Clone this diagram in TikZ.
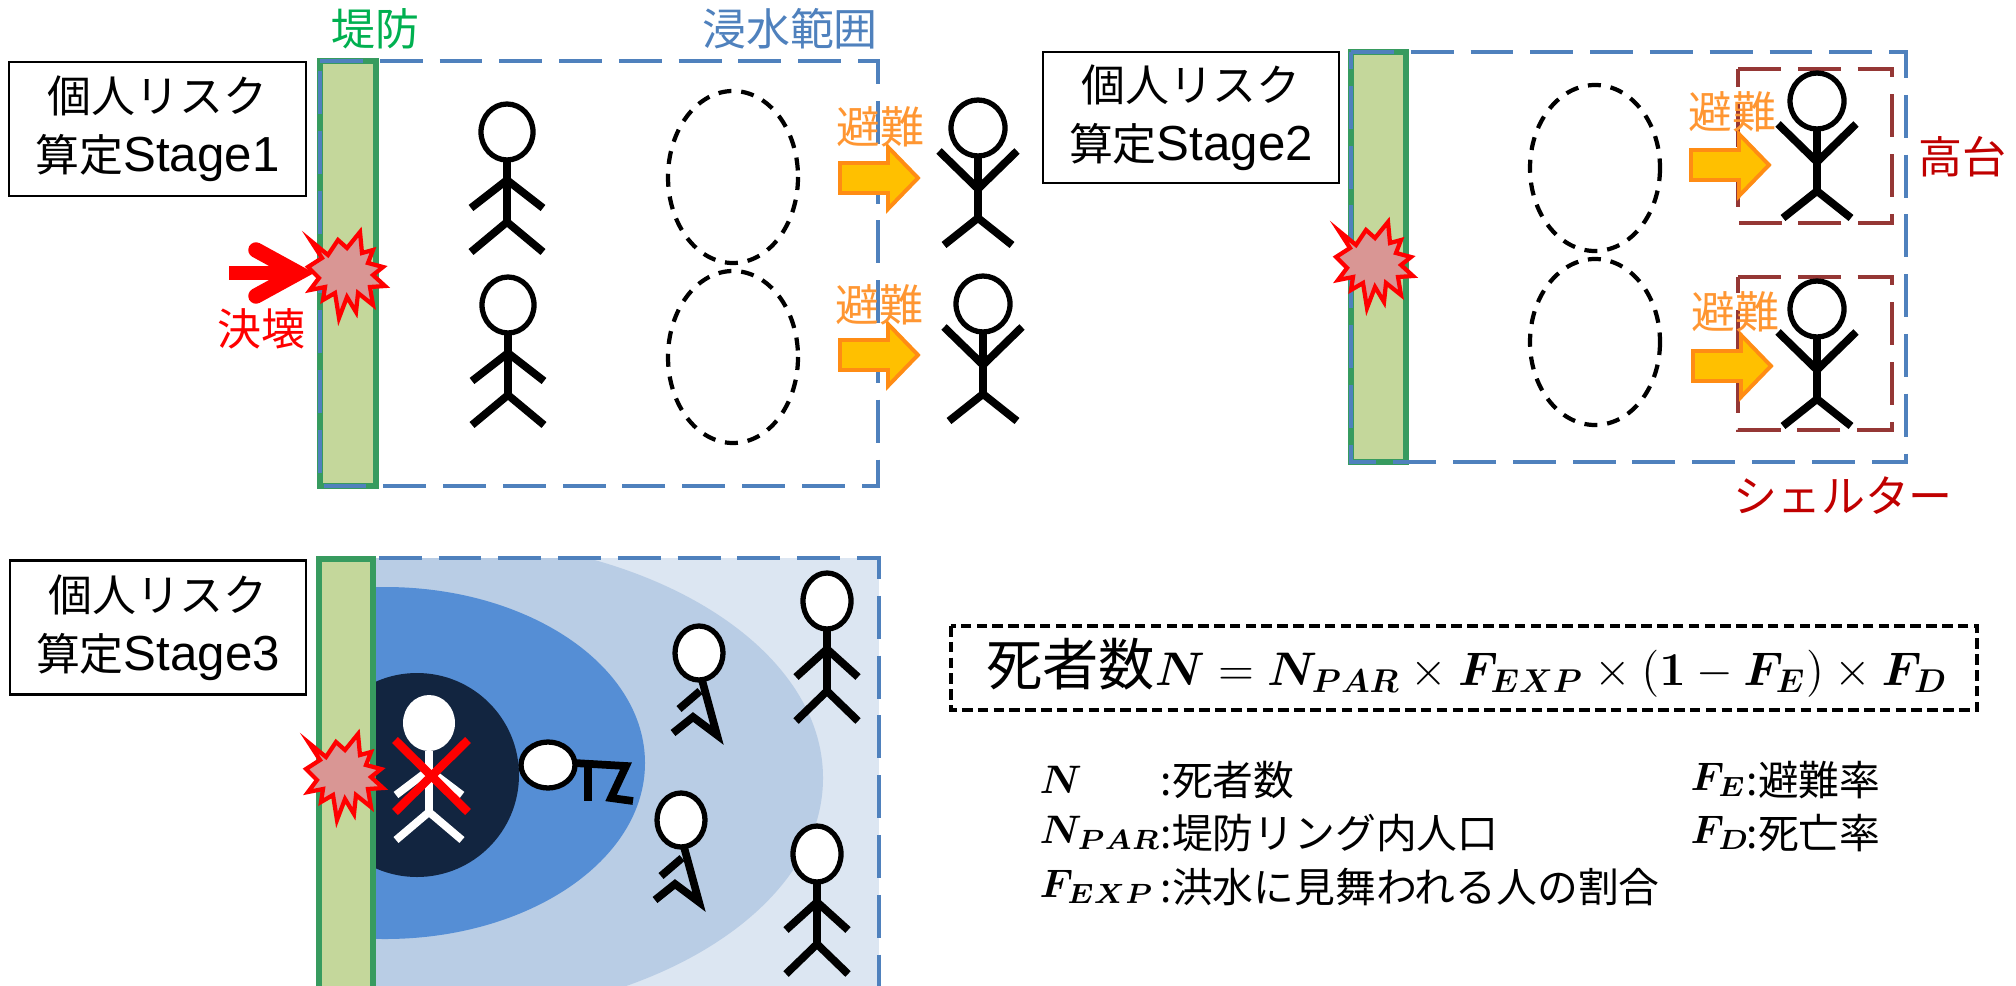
\RequirePackage{fix-cm}
\documentclass[tikz,border=0pt]{standalone}
\usepackage{amsmath,amssymb,bm}
\usepackage[no-math]{fontspec}
\setmainfont{Noto Sans CJK JP}
\newfontfamily\latinfont{Liberation Sans}
\definecolor{leveefill}{RGB}{196,215,155}
\definecolor{leveeedge}{RGB}{55,155,95}
\definecolor{leveetext}{RGB}{0,176,80}
\definecolor{floodblue}{RGB}{79,129,189}
\definecolor{burstfill}{RGB}{217,150,148}
\definecolor{evacfill}{RGB}{255,192,0}
\definecolor{evacedge}{RGB}{255,140,20}
\definecolor{evactext}{RGB}{255,150,50}
\definecolor{shelteredge}{RGB}{149,55,53}
\definecolor{highred}{RGB}{192,0,0}
\definecolor{depthA}{RGB}{220,230,242}
\definecolor{depthB}{RGB}{185,205,229}
\definecolor{depthC}{RGB}{85,142,213}
\definecolor{depthD}{RGB}{18,37,64}
\newcommand{\stagetext}[1]{個人リスク\\算定{\latinfont\fontsize{14}{16.8}\selectfont Stage#1}}

\begin{document}
\begin{tikzpicture}[x=0.01cm,y=-0.01cm,
  labelbox/.style={draw,line width=0.6pt,minimum width=2.96cm,minimum height=1.34cm,inner sep=0pt,align=center,font=\fontsize{12.5}{16.8}\selectfont},
  levee/.style={fill=leveefill,draw=leveeedge,line width=1.5pt},
  flood/.style={draw=floodblue,line width=1.4pt,dash pattern=on 12.2pt off 4.8pt},
  trace/.style={draw=black,line width=1.2pt,dash pattern=on 3.7pt off 2.8pt},
  burst/.style={fill=burstfill,draw=red,line width=1.2pt,line join=miter},
  evac/.style={fill=evacfill,draw=evacedge,line width=1.1pt},
  shelter/.style={draw=shelteredge,line width=1.4pt,dash pattern=on 12.2pt off 4.8pt},
  person/.style={line width=2.2pt},
  head/.style={line width=1.5pt,fill=white},
  tag/.style={font=\fontsize{12.5}{15}\selectfont,inner sep=0pt},
  legend/.style={font=\fontsize{11.6}{14}\selectfont,inner sep=0pt,anchor=west},
  symbol/.style={font=\fontsize{11.3}{14}\selectfont,inner sep=0pt,anchor=west}]
\useasboundingbox (0,0) rectangle (2016,985);

% Stage 1
\filldraw[levee] (320,61) rectangle (376,486);
\draw[flood] (320,61) -- (878,61) -- (878,486) -- (320,486) -- cycle;
\draw[trace] (733,177) ellipse [x radius=65, y radius=86];
\draw[trace] (733,357) ellipse [x radius=65, y radius=86];
\node[labelbox] (stage1) at (157.5,129) {\stagetext{1}};
\node[tag,text=leveetext] (leveename) at (375,29) {堤防};
\node[tag,text=floodblue] (floodname) at (790,29) {浸水範囲};
\node[tag,text=red] (breachname) at (261,329) {決壊};
\draw[red,line width=3.8pt] (229,273) -- (290,273);
\draw[red,line width=4.4pt,line cap=round] (256,250) -- (298,273) -- (256,296);

% Stage 2
\filldraw[levee] (1351,52) rectangle (1406,462);
\draw[flood] (1351,52) -- (1906,52) -- (1906,462) -- (1351,462) -- cycle;
\draw[trace] (1595,168) ellipse [x radius=65, y radius=83];
\draw[trace] (1595,342) ellipse [x radius=65, y radius=83];
\draw[shelter] (1738,69) -- (1892,69) -- (1892,223) -- (1738,223) -- cycle;
\draw[shelter] (1738,277) -- (1892,277) -- (1892,430) -- (1738,430) -- cycle;
\node[labelbox,minimum height=1.31cm] (stage2) at (1191,117.5) {\stagetext{2}};
\node[tag,text=highred] (highground) at (1962,157) {高台};
\node[tag,text=highred] (sheltername) at (1843,496) {シェルター};

% Stage 3
\fill[depthA] (319,558) rectangle (879,1000);
\begin{scope}
\clip (319,558) rectangle (879,1000);
\fill[depthB] (430,778) ellipse [x radius=393, y radius=240];
\fill[depthC] (385,763) ellipse [x radius=260, y radius=176];
\fill[depthD] (417,775) ellipse [x radius=102, y radius=102];
\end{scope}
\draw[flood] (319,558) -- (879,558) -- (879,1000);
\filldraw[levee] (319,559) rectangle (373,1000);
\node[labelbox] (stage3) at (158,627.5) {\stagetext{3}};

\foreach \bx/\by in {347/273, 1375/263, 345/775}
  \filldraw[burst,shift={(\bx,\by)}] (-36,-32) -- (-19,-18) -- (-9,-33) -- (0,-25) -- (13,-41) -- (15,-20) -- (26,-23) -- (21,-10) -- (36,-6) -- (26,2) -- (38,13) -- (23,14) -- (26,32) -- (11,20) -- (9,39) -- (0,24) -- (-8,45) -- (-12,20) -- (-24,27) -- (-22,14) -- (-37,17) -- (-28,5) -- (-39,-6) -- (-25,-15) -- cycle;

\foreach \ax/\ay in {840/178, 840/355, 1691/165, 1693/366}
  \filldraw[evac] (\ax,\ay-15) -- (\ax+48,\ay-15) -- (\ax+48,\ay-31) -- (\ax+78,\ay) -- (\ax+48,\ay+31) -- (\ax+48,\ay+15) -- (\ax,\ay+15) -- cycle;
\node[tag,text=evactext] (evacA) at (880,127) {避難};
\node[tag,text=evactext] (evacB) at (879,305) {避難};
\node[tag,text=evactext] (evacC) at (1732,112) {避難};
\node[tag,text=evactext] (evacD) at (1735,312) {避難};

% people standing
\foreach \cx/\cy/\w/\r in {507/132/36/26, 508/305/36/26, 827/601/31/24, 817/854/31/24} {
  \draw[person] (\cx,\cy+28) -- (\cx,\cy+90);
  \draw[person] (\cx-\w,\cy+76) -- (\cx,\cy+48) -- (\cx+\w,\cy+76);
  \draw[person] (\cx-\w,\cy+120) -- (\cx,\cy+90) -- (\cx+\w,\cy+120);
  \filldraw[head] (\cx,\cy) ellipse [x radius=\r, y radius=28];
}
% people evacuated, arms up
\foreach \cx/\cy in {978/128, 983/304, 1817/101, 1817/309} {
  \draw[person] (\cx,\cy+28) -- (\cx,\cy+90);
  \draw[person] (\cx-39,\cy+23) -- (\cx,\cy+61) -- (\cx+39,\cy+23);
  \draw[person] (\cx-34,\cy+117) -- (\cx,\cy+90) -- (\cx+34,\cy+117);
  \draw[head] (\cx,\cy) ellipse [x radius=27, y radius=28];
}
% people kneeling
\foreach \cx/\cy in {699/653, 681/820} {
  \draw[person] (\cx+3,\cy+27) -- (\cx+18,\cy+82) -- (\cx-6,\cy+64) -- (\cx-26,\cy+80);
  \draw[person] (\cx+1,\cy+38) -- (\cx-20,\cy+56);
  \filldraw[head] (\cx,\cy) ellipse [x radius=24, y radius=27];
}
% person fallen
\draw[person] (574,763) -- (626,766) -- (611,798) -- (633,801);
\draw[person] (588,765) -- (588,801);
\filldraw[head] (548,765) ellipse [x radius=27, y radius=23];
% person lost
\draw[person,white] (429,751) -- (429,812);
\draw[person,white] (396,795) -- (429,770) -- (462,795);
\draw[person,white] (396,840) -- (429,812) -- (462,840);
\fill[white] (429,723) ellipse [x radius=26, y radius=28];
\draw[red,line width=2.4pt] (395,740) -- (468,812);
\draw[red,line width=2.4pt] (468,740) -- (395,812);

% formula
\draw[line width=1.1pt,dash pattern=on 3pt off 1.5pt] (951,626) rectangle (1977,710);
\node[font=\fontsize{13.4}{18}\selectfont,inner sep=0pt] (deaths) at (1467,668)
  {{\fontsize{16}{18}\selectfont 死者数}$\bm{N}=\bm{N_{PAR}}\times\bm{F_{EXP}}\times(\bm{1}-\bm{F_E})\times\bm{F_D}$};
\node[symbol] (symN) at (1039,780) {$\bm{N}$};
\node[symbol] (symPAR) at (1039,833) {$\bm{N_{PAR}}$};
\node[symbol] (symEXP) at (1039,887) {$\bm{F_{EXP}}$};
\node[legend] (txtN) at (1160,780) {:死者数};
\node[legend] (txtPAR) at (1160,833) {:堤防リング内人口};
\node[legend] (txtEXP) at (1160,887) {:洪水に見舞われる人の割合};
\node[symbol] (symE) at (1690,780) {$\bm{F_E}$};
\node[symbol] (symD) at (1690,833) {$\bm{F_D}$};
\node[legend] (txtE) at (1746,780) {:避難率};
\node[legend] (txtD) at (1746,833) {:死亡率};
\end{tikzpicture}
\end{document}
